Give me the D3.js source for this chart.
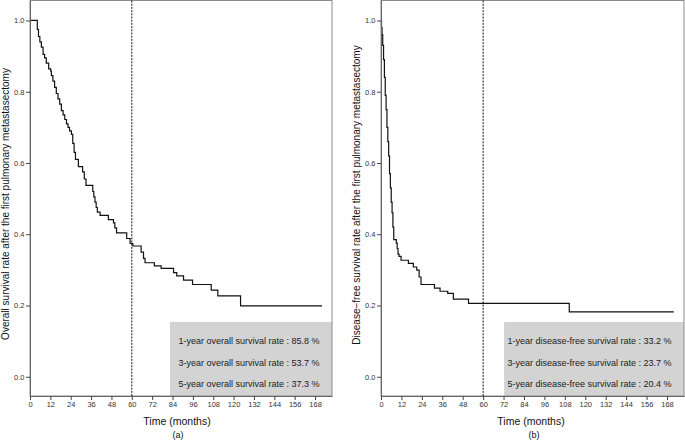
<!DOCTYPE html>
<html>
<head>
<meta charset="utf-8">
<script src="https://cdn.jsdelivr.net/npm/d3@7"></script>
<style>
  html, body { margin: 0; padding: 0; background: #fff; }
  svg { display: block; font-family: "Liberation Sans", Arial, sans-serif; }
</style>
</head>
<body>
<svg id="chart" width="685" height="441"></svg>
<script>
// ---- Data ----
const timeTicks = [0, 12, 24, 36, 48, 60, 72, 84, 96, 108, 120, 132, 144, 156, 168];
const rateTicks = [0.0, 0.2, 0.4, 0.6, 0.8, 1.0];

// Overall survival (panel a): [months, survival]
const osTimes = [0, 4.3, 5.0, 5.8, 6.7, 7.7, 8.6, 9.6, 11, 12.2, 12.6, 13.5, 14.5, 15.5, 16.5, 17.5, 18.5, 19.5, 20.5, 21.5, 22.4, 23.3, 24.4, 25.2, 26, 26.8, 28.5, 31, 32, 33, 37, 37.6, 38.3, 39, 39.7, 41.3, 46.2, 49.2, 50, 51, 57, 59, 60.6, 65.5, 66.9, 67.8, 73.3, 77.3, 84.6, 86.5, 90.5, 95.8, 106.8, 110.7, 124.1, 172.1];
const osRates = [1.0, 0.975, 0.955, 0.94, 0.925, 0.905, 0.895, 0.88, 0.864, 0.858, 0.845, 0.83, 0.812, 0.795, 0.78, 0.765, 0.747, 0.735, 0.722, 0.71, 0.70, 0.69, 0.68, 0.655, 0.63, 0.61, 0.59, 0.575, 0.555, 0.537, 0.52, 0.505, 0.49, 0.475, 0.462, 0.453, 0.441, 0.432, 0.418, 0.404, 0.388, 0.374, 0.367, 0.35, 0.332, 0.32, 0.311, 0.304, 0.292, 0.283, 0.271, 0.259, 0.243, 0.227, 0.199, 0.199];

// Disease-free survival (panel b): [months, survival]
const dfsTimes = [0, 0.3, 0.6, 1.0, 1.5, 2.0, 2.5, 3.0, 3.5, 4.0, 4.5, 5.0, 5.5, 6.0, 6.5, 7.0, 7.5, 9.0, 9.5, 10.0, 10.6, 11.8, 16.1, 19.0, 21.0, 22.4, 23.5, 31.4, 34.7, 39.2, 42.5, 51.4, 110.6, 172.0];
const dfsRates = [1.0, 0.98, 0.96, 0.93, 0.89, 0.84, 0.79, 0.75, 0.70, 0.66, 0.62, 0.57, 0.53, 0.49, 0.46, 0.42, 0.385, 0.375, 0.36, 0.344, 0.338, 0.327, 0.318, 0.308, 0.299, 0.28, 0.259, 0.249, 0.24, 0.234, 0.218, 0.206, 0.182, 0.182];

const osLines = ["1-year overall survival rate : 85.8 %", "3-year overall survival rate : 53.7 %", "5-year overall survival rate : 37.3 %"];
const dfsLines = ["1-year disease-free survival rate : 33.2 %", "3-year disease-free survival rate : 23.7 %", "5-year disease-free survival rate : 20.4 %"];

const yTitles = ["Overall survival rate after the first pulmonary metastasectomy", "Disease\u2212free survival rate after the first pulmonary metastasectomy"];
const xTitle = "Time (months)";
const panelLabels = ["(a)", "(b)"];

// ---- Drawing ----
const svg = d3.select("#chart");

const panels = [
  { left: 30, right: 332, times: osTimes, rates: osRates, lines: osLines, boxStart: 82.5, yTitleX: 9, yTitleY: 204, xTitleX: 177, labelX: 178, label: panelLabels[0], yTitle: yTitles[0] },
  { left: 381, right: 684, times: dfsTimes, rates: dfsRates, lines: dfsLines, boxStart: 72.3, yTitleX: 360, yTitleY: 195, xTitleX: 531, labelX: 534, label: panelLabels[1], yTitle: yTitles[1] }
];

const plotTop = 0.5, plotBottom = 396;

panels.forEach(p => {
  const x = d3.scaleLinear().domain([0, 178]).range([p.left, p.right]);
  const y = d3.scaleLinear().domain([-0.054, 1.056]).range([plotBottom, plotTop]);
  const g = svg.append("g");

  // grey info box
  g.append("rect")
    .attr("x", x(p.boxStart))
    .attr("y", y(0.154))
    .attr("width", p.right - x(p.boxStart))
    .attr("height", plotBottom - y(0.154))
    .attr("fill", "#d3d3d3");

  p.lines.forEach((t, i) => {
    g.append("text")
      .attr("x", p.right - 12.5)
      .attr("y", [344, 366, 386.5][i])
      .attr("text-anchor", "end")
      .attr("font-size", 9)
      .attr("fill", "#222")
      .text(t);
  });

  // frame
  g.append("rect")
    .attr("x", p.left).attr("y", plotTop)
    .attr("width", p.right - p.left).attr("height", plotBottom - plotTop)
    .attr("fill", "none").attr("stroke", "#8a8a8a").attr("stroke-width", 1);

  // dashed 60-month line
  g.append("line")
    .attr("x1", x(60)).attr("x2", x(60))
    .attr("y1", plotTop).attr("y2", plotBottom)
    .attr("stroke", "#111").attr("stroke-width", 1)
    .attr("stroke-dasharray", "2,1.2");

  // curve
  const pts = p.times.map((t, i) => [t, p.rates[i]]);
  g.append("path")
    .datum(pts)
    .attr("fill", "none")
    .attr("stroke", "#111")
    .attr("stroke-width", 1.2)
    .attr("d", d3.line().x(d => x(d[0])).y(d => y(d[1])).curve(d3.curveStepAfter));

  // axes
  const xa = g.append("g").attr("transform", `translate(0,${plotBottom})`)
    .call(d3.axisBottom(x).tickValues(timeTicks).tickSize(4).tickSizeOuter(0).tickPadding(2));
  const ya = g.append("g").attr("transform", `translate(${p.left},0)`)
    .call(d3.axisLeft(y).tickValues(rateTicks).tickFormat(d3.format(".1f")).tickSize(4).tickSizeOuter(0).tickPadding(1.5));
  [xa, ya].forEach(a => {
    a.select(".domain").attr("stroke", "#666");
    a.selectAll(".tick line").attr("stroke", "#444");
    a.selectAll(".tick text").attr("fill", "#333").attr("font-size", 7.5)
      .attr("font-family", "'Liberation Sans', Arial, sans-serif");
  });
  ya.selectAll(".tick text").attr("dy", "0.32em");

  // titles
  g.append("text")
    .attr("x", p.xTitleX).attr("y", 425)
    .attr("text-anchor", "middle").attr("font-size", 10.5).attr("fill", "#111")
    .text(xTitle);
  g.append("text")
    .attr("x", p.labelX).attr("y", 437.5)
    .attr("text-anchor", "middle").attr("font-size", 9).attr("fill", "#111")
    .text(p.label);
  g.append("text")
    .attr("transform", `translate(${p.yTitleX},${p.yTitleY}) rotate(-90)`)
    .attr("text-anchor", "middle").attr("font-size", 10).attr("fill", "#111")
    .text(p.yTitle);
});
</script>
</body>
</html>
